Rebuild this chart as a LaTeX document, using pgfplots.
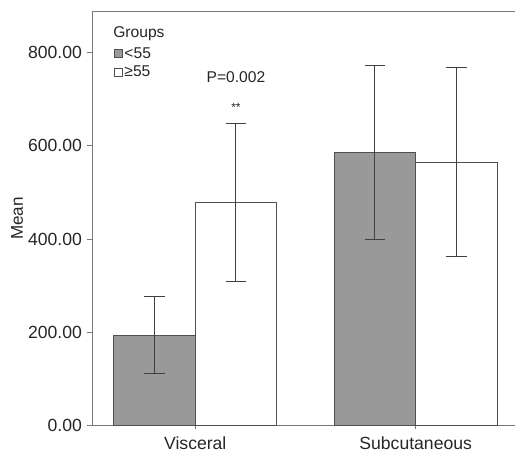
\documentclass[border=0pt]{standalone}
\usepackage{pgfplots}
\pgfplotsset{compat=1.18}
\usepackage{fontspec}
\setmainfont{Liberation Sans}
\definecolor{barg}{HTML}{999999}
\definecolor{edge}{HTML}{505050}
\definecolor{axl}{HTML}{7A7A7A}
\definecolor{errc}{HTML}{404040}
\begin{document}
\begin{tikzpicture}
\useasboundingbox (0,0) rectangle (386.25pt,339pt);
\begin{axis}[
  at={(69.5pt,19.7pt)}, anchor=south west,
  scale only axis, width=318.98pt, height=311pt,
  xmin=-0.4655, xmax=1.4642, ymin=0, ymax=888.6,
  xtick={0,1}, xticklabels={Visceral,Subcutaneous},
  ytick={0,200,400,600,800},
  tick pos=left,
  yticklabel style={/pgf/number format/.cd,fixed,fixed zerofill,precision=2,1000 sep={},assume math mode=true},
  tick label style={font=\fontsize{13.2}{15}\selectfont, text=black!85},
  ylabel={Mean},
  ylabel style={font=\fontsize{12.8}{15}\selectfont, text=black!85, at={(axis description cs:-0.178,0.5)}, anchor=center},
  axis line style={axl, line width=0.8pt},
  tick style={axl, line width=0.8pt},
  tick align=outside, major tick length=4.5pt,
  xtick style={/pgfplots/major tick length=2.5pt},
  ybar, bar width=0.369, bar shift=0,
  legend image code/.code={\draw[#1, line width=0.6pt] (0pt,-2.9pt) rectangle (5.6pt,2.9pt);},
  legend style={at={(axis description cs:0.050,0.918)}, anchor=north west, draw=none, fill=none,
    font=\fontsize{11.7}{13}\selectfont, inner sep=0pt, row sep=1.6pt,
    nodes={inner sep=1.5pt, text=black!85}},
  legend cell align=left,
  error bars/y dir=both, error bars/y explicit,
  error bars/error bar style={errc, line width=0.75pt},
  error bars/error mark options={rotate=90, mark size=7.7pt, line width=0.75pt, errc},
  clip=false,
]
\addplot[fill=barg, draw=edge, line width=0.6pt] coordinates {(-0.1847,194.3) +- (0,83) (0.8153,585) +- (0,186)};
\addlegendentry{<55}
\addplot[fill=white, draw=edge, line width=0.6pt] coordinates {(0.1847,478.7) +- (0,170) (1.1847,565) +- (0,203)};
\addlegendentry{≥55}
\node[anchor=north west, inner sep=0pt, font=\fontsize{11.7}{13}\selectfont, text=black!85] at (axis description cs:0.048,0.963) {Groups};
\node[font=\fontsize{11.7}{13}\selectfont, text=black!85] at (axis cs:0.1847,746) {P=0.002};
\node[font=\fontsize{9}{10}\selectfont, text=black!85] at (axis cs:0.1847,683) {**};
\end{axis}
\end{tikzpicture}
\end{document}
